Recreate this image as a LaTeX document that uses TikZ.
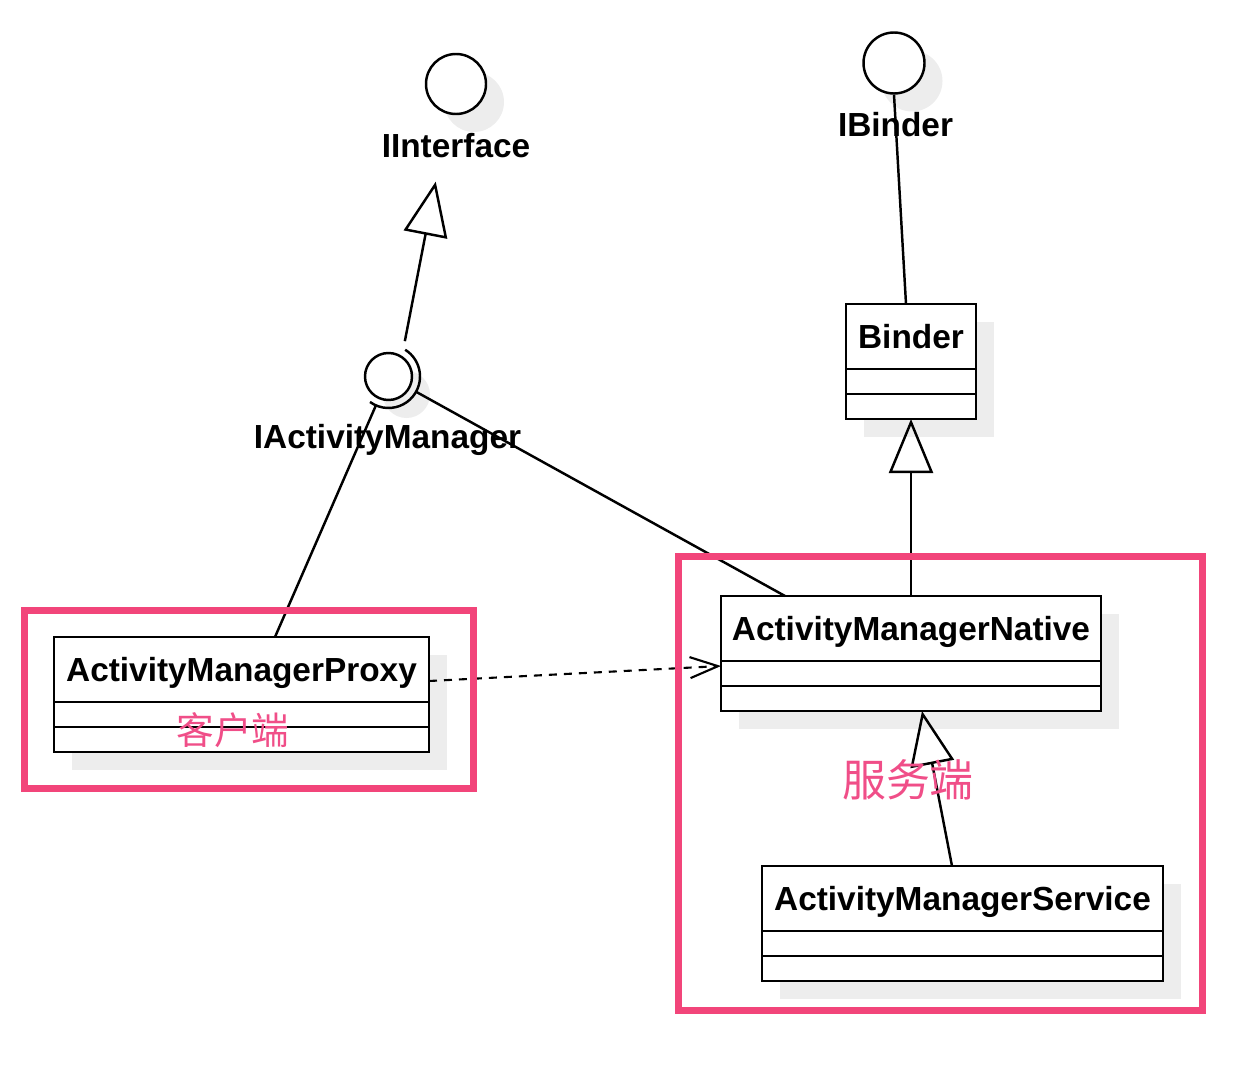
\documentclass[tikz,border=0pt]{standalone}
\usepackage{fontspec}
\setmainfont{Liberation Sans}
\newfontfamily\cjkfont{Noto Sans CJK SC}
\usepackage{tikz}
\usetikzlibrary{arrows.meta, positioning, shapes, shadows}

\definecolor{roseframe}{HTML}{F2457A}
\definecolor{rosetext}{HTML}{F04E88}

\begin{document}
\begin{tikzpicture}[
    line width=1.4pt,
    shade/.style={drop shadow={shadow xshift=0.36cm, shadow yshift=-0.36cm,
                               fill=black!7, opacity=1}},
    classname/.style={draw, rectangle, fill=white, shade, inner sep=0pt,
                      outer sep=0pt, minimum height=1.3cm,
                      font=\fontsize{19}{22}\selectfont\bfseries,
                      text height=13.6pt, text depth=0pt},
    compart/.style={draw, rectangle, fill=white, shade, inner sep=0pt,
                    outer sep=0pt, minimum height=0.5cm},
    iface/.style={draw, circle, fill=white, shade, inner sep=0pt},
    ilabel/.style={font=\fontsize{19}{22}\selectfont\bfseries,
                   inner sep=0pt, anchor=base},
    gen/.style={-{Triangle[open, length=1.08cm, width=0.88cm]}},
    dep/.style={-{Straight Barb[length=0.56cm, width=0.42cm]},
                dash pattern=on 0.16cm off 0.14cm, line width=1.2pt},
    zone/.style={draw=roseframe, line width=0.14cm},
    zonelabel/.style={text=rosetext, inner sep=0pt}
]
\useasboundingbox (0,0) rectangle (24.8,-21.54);

% Interfaces
\node[iface, minimum size=1.2cm]  (iif) at (9.12,-1.68) {};
\node[ilabel] (iiflab) at (9.12,-3.16) {IInterface};
\node[iface, minimum size=1.22cm] (ib)  at (17.88,-1.26) {};
\node[ilabel] (iblab) at (17.91,-2.74) {IBinder};
\node[iface, minimum size=0.94cm] (iam) at (7.77,-7.53) {};
\draw ([shift={(58:0.63)}]iam.center) arc[start angle=58, end angle=-126, radius=0.63];
\node[ilabel] (iamlab) at (7.75,-8.96) {IActivityManager};

% Classes
\node[classname, minimum width=2.6cm, anchor=north] (bndname) at (18.22,-6.08) {Binder};
\node[compart, minimum width=2.6cm, below=0pt of bndname] (bndattr) {};
\node[compart, minimum width=2.6cm, below=0pt of bndattr] (bndops) {};

\node[classname, minimum width=7.5cm, anchor=north] (prxname) at (4.83,-12.74) {ActivityManagerProxy};
\node[compart, minimum width=7.5cm, below=0pt of prxname] (prxattr) {};
\node[compart, minimum width=7.5cm, below=0pt of prxattr] (prxops) {};

\node[classname, minimum width=7.6cm, anchor=north] (natname) at (18.22,-11.92) {ActivityManagerNative};
\node[compart, minimum width=7.6cm, below=0pt of natname] (natattr) {};
\node[compart, minimum width=7.6cm, below=0pt of natattr] (natops) {};

\node[classname, minimum width=8.02cm, anchor=north] (svcname) at (19.25,-17.32) {ActivityManagerService};
\node[compart, minimum width=8.02cm, below=0pt of svcname] (svcattr) {};
\node[compart, minimum width=8.02cm, below=0pt of svcattr] (svcops) {};

% Connectors
\draw[gen, shorten <=0.72cm, shorten >=0.45cm] ([xshift=0.19cm]iam.center) -- ([xshift=-0.32cm]iiflab.south);
\draw (ib.south) -- ([xshift=-0.1cm]bndname.north);
\draw[shorten <=0.63cm] (iam.center) -- ([xshift=0.67cm]prxname.north);
\draw[shorten <=0.64cm] (iam.center) -- ([xshift=-2.52cm]natname.north);
\draw[gen] (natname.north) -- (bndops.south);
\draw[gen] ([xshift=-0.21cm]svcname.north) -- ([xshift=0.22cm]natops.south);
\draw[dep] ([yshift=-0.23cm]prxname.east) -- ([yshift=-0.1cm]natname.south west);

% Client / server zones
\draw[zone] (0.48,-12.2) rectangle (9.46,-15.76);
\draw[zone] (13.56,-11.12) rectangle (24.04,-20.2);
\node[zonelabel, font=\cjkfont\fontsize{21.4}{24}\selectfont] (client) at (4.66,-14.6) {客户端};
\node[zonelabel, font=\cjkfont\fontsize{25}{28}\selectfont] (server) at (18.16,-15.6) {服务端};

\end{tikzpicture}
\end{document}
